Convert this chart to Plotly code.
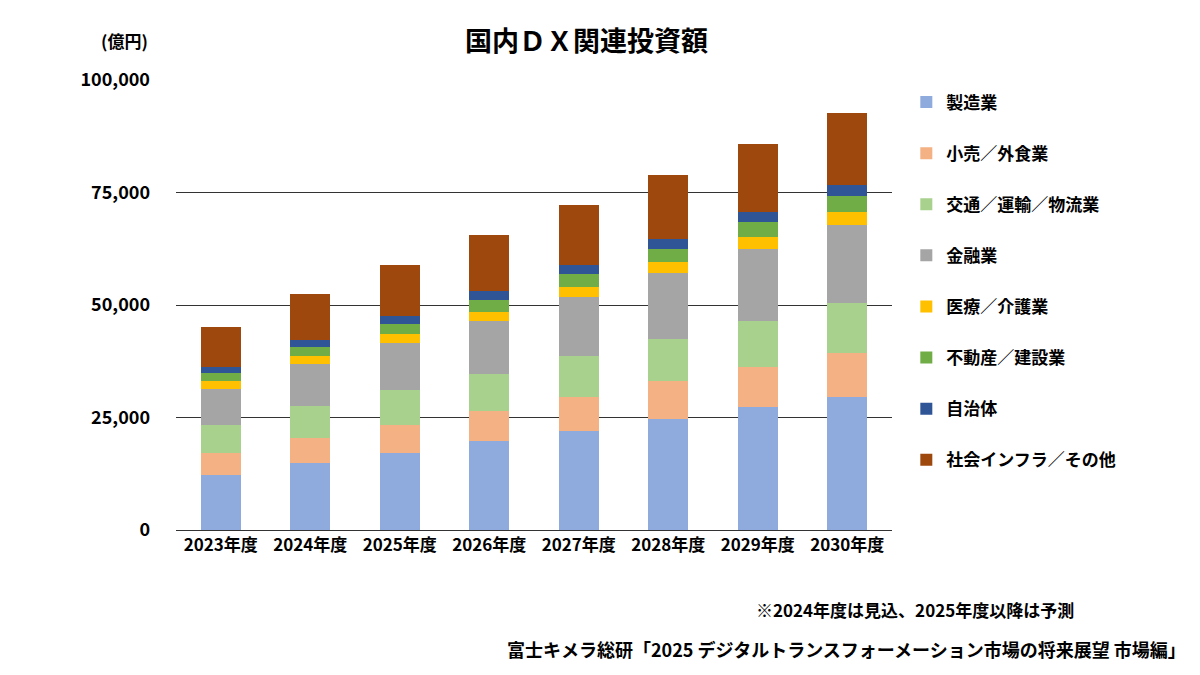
import plotly.graph_objects as go

years = ["2023年度", "2024年度", "2025年度", "2026年度", "2027年度", "2028年度", "2029年度", "2030年度"]

# stacked segments (億円), bottom to top
seizo = [12200, 14900, 17100, 19800, 22000, 24700, 27300, 29600]
kouri = [4900, 5500, 6200, 6600, 7600, 8400, 8900, 9700]
koutsu = [6200, 7200, 7800, 8300, 9100, 9300, 10200, 11100]
kinyu = [8000, 9300, 10500, 11700, 13100, 14700, 16000, 17400]
iryo = [1800, 1800, 2000, 2000, 2200, 2500, 2700, 2900]
fudosan = [1800, 2000, 2200, 2700, 2900, 2800, 3300, 3500]
jichitai = [1300, 1500, 1800, 2000, 2000, 2300, 2300, 2500]
shakai = [8900, 10200, 11300, 12500, 13300, 14200, 15100, 16000]

series = [
    ("製造業", seizo, "#8faadc"),
    ("小売／外食業", kouri, "#f4b183"),
    ("交通／運輸／物流業", koutsu, "#a9d18e"),
    ("金融業", kinyu, "#a5a5a5"),
    ("医療／介護業", iryo, "#ffc000"),
    ("不動産／建設業", fudosan, "#70ad47"),
    ("自治体", jichitai, "#2f5597"),
    ("社会インフラ／その他", shakai, "#9e480e"),
]

font = "Noto Sans CJK JP"
fig = go.Figure()
for i, (name, vals, col) in enumerate(series):
    fig.add_trace(go.Bar(x=years, y=vals, name=name, marker_color=col,
                         marker_line_width=0, legendgroup=str(i)))

fig.update_layout(
    barmode="stack", bargap=0.55,
    width=1200, height=675,
    paper_bgcolor="white", plot_bgcolor="white",
    font=dict(family=font, size=15, color="black", weight="bold"),
    title=dict(text="<b>国内ＤＸ関連投資額</b>", x=0.482, xanchor="center", y=0.951,
               yanchor="middle", font=dict(size=27)),
    margin=dict(l=168, r=316, t=72, b=153, autoexpand=False),
    legend=dict(traceorder="reversed+grouped", x=1.02, y=0.99, yanchor="top",
                tracegroupgap=26, font=dict(size=17, weight="bold"), itemwidth=30),
    showlegend=True,
)
fig.update_yaxes(range=[0, 100000], tickvals=[0, 25000, 50000, 75000, 100000],
                 tickformat=",", showgrid=True, gridcolor="#333333", gridwidth=1,
                 tickfont=dict(size=18, weight="bold"), ticklabelstandoff=25, zeroline=False)
fig.update_xaxes(showline=True, linecolor="#333333", tickfont=dict(size=17, weight="bold"))

fig.add_annotation(text="<b>(億円)</b>", xref="paper", yref="paper", x=-0.036, y=1.087,
                   showarrow=False, font=dict(size=17), xanchor="right", yanchor="middle")
fig.add_annotation(text="<b>※2024年度は見込、2025年度以降は予測</b>", xref="paper", yref="paper",
                   x=1.257, y=-0.176, xanchor="right", yanchor="middle",
                   showarrow=False, font=dict(size=17))
fig.add_annotation(text="<b>富士キメラ総研「2025 デジタルトランスフォーメーション市場の将来展望 市場編」</b>",
                   xref="paper", yref="paper", x=1.413, y=-0.264, xanchor="right", yanchor="middle",
                   showarrow=False, font=dict(size=18))

fig.write_html("out.html")
